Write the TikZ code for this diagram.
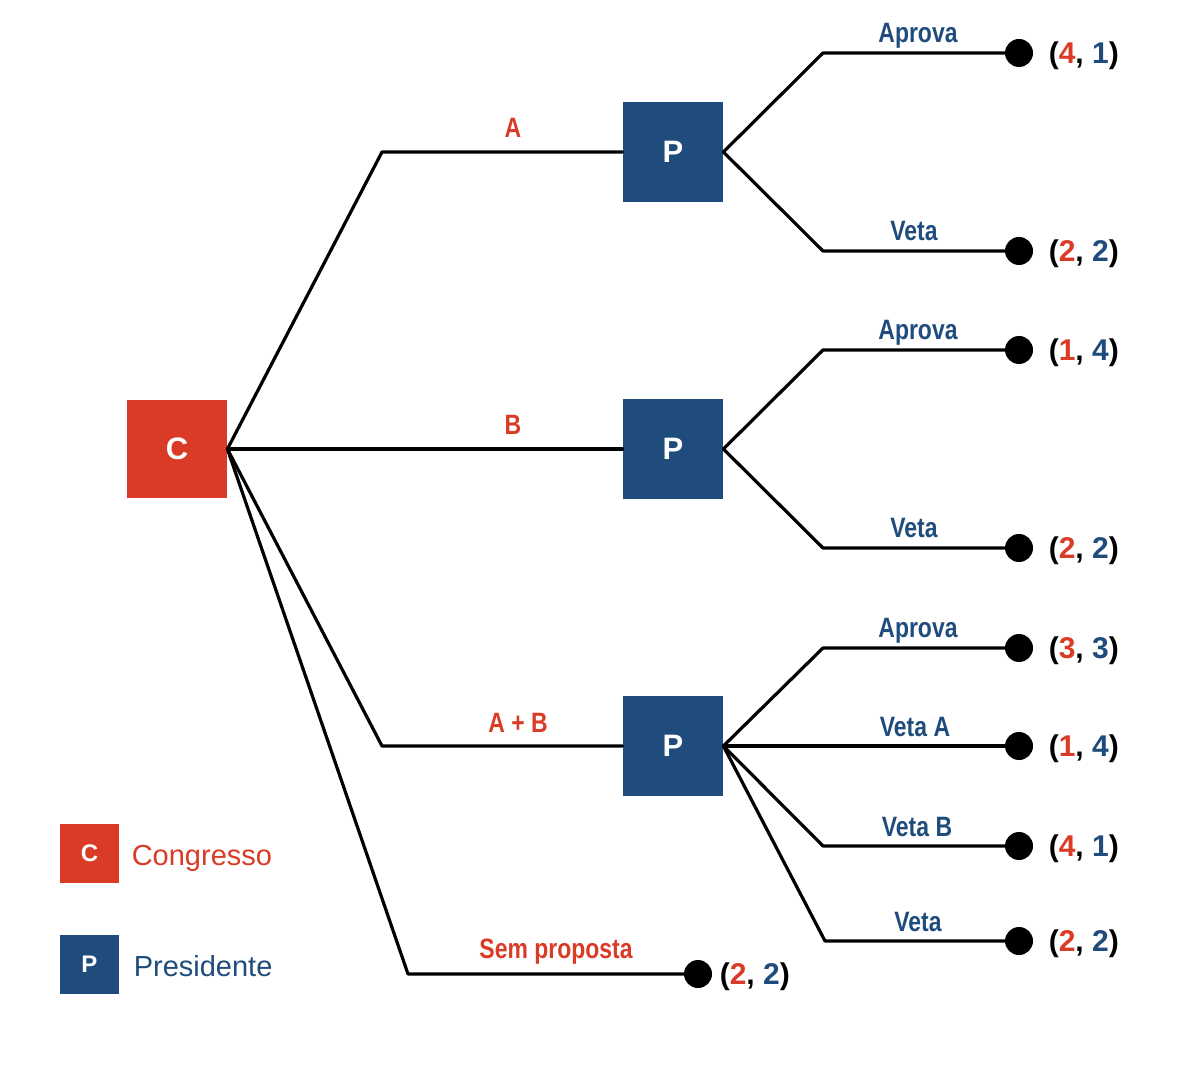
\documentclass[tikz,border=0pt]{standalone}
\usepackage{fontspec}
\setmainfont{Liberation Sans}
\newfontfamily\lblfont{Liberation Sans}[FakeStretch=0.82]
\usepackage{tikz}
\usetikzlibrary{positioning}
\definecolor{congred}{RGB}{218,59,38}
\definecolor{presblue}{RGB}{31,76,124}
\tikzset{
  player/.style={rectangle, minimum size=50pt, inner sep=0pt, text=white,
    font=\bfseries\fontsize{15.5}{15.5}\selectfont},
  leaf/.style={circle, fill=black, minimum size=14pt, inner sep=0pt},
  payoff/.style={anchor=west, inner sep=0pt, yshift=-1.5pt,
    font=\bfseries\fontsize{15}{15}\selectfont},
  movec/.style={anchor=base, inner sep=0pt, text=congred,
    font=\lblfont\bfseries\fontsize{14}{14}\selectfont},
  movep/.style={movec, text=presblue},
  legtext/.style={inner sep=0pt, font=\fontsize{14.5}{14.5}\selectfont},
  branch/.style={line width=1.6pt}
}
\newcommand{\pay}[2]{(\textcolor{congred}{#1}, \textcolor{presblue}{#2})}

\begin{document}
\begin{tikzpicture}[line cap=round,line join=round,x=0.5pt,y=-0.5pt]
\useasboundingbox (0,0) rectangle (1200,1080);
% players
\node[player, fill=congred, minimum height=49pt] (C) at (177,449) {C};
\node[player, fill=presblue] (PA) at (673,152) {P};
\node[player, fill=presblue] (PB) at (673,449) {P};
\node[player, fill=presblue] (PAB) at (673,746) {P};
% moves of C
\coordinate (kA) at (382,152);
\coordinate (kAB) at (382,746);
\coordinate (kS) at (408,974);
\node[leaf] (S) at (698,974) {};
\node[payoff, right=3.5pt of S] (Spay) {\pay{2}{2}};
\draw[branch] (C.east) -- (kA) -- (PA.west);
\draw[branch] (C.east) -- (PB.west);
\draw[branch] (C.east) -- (kAB) -- (PAB.west);
\draw[branch] (C.east) -- (kS) -- (S);
\node[movec] (labA) at (513,138) {A};
\node[movec] (labB) at (513,435) {B};
\node[movec] (labAB) at (518,732) {A + B};
\node[movec] (labS) at (556,958) {Sem proposta};
% moves of P
\foreach \nm/\src/\y/\kx/\lab/\lx/\u/\v in {
  a1/PA/53/823/Aprova/918/4/1,
  a2/PA/251/823/Veta/914/2/2,
  b1/PB/350/823/Aprova/918/1/4,
  b2/PB/548/823/Veta/914/2/2,
  c1/PAB/648/823/Aprova/918/3/3,
  c2/PAB/746/823/Veta A/915/1/4,
  c3/PAB/846/823/Veta B/917/4/1,
  c4/PAB/941/825/Veta/918/2/2}
{
  \coordinate (k\nm) at (\kx,\y);
  \node[leaf] (\nm) at (1019,\y) {};
  \node[payoff, right=7.5pt of \nm] (\nm pay) {\pay{\u}{\v}};
  \node[movep] (\nm lab) at (\lx,\y-10) {\lab};
  \draw[branch] (\src.east) -- (k\nm) -- (\nm);
}
% legend
\node[player, fill=congred, minimum size=29.5pt, font=\bfseries\fontsize{12}{12}\selectfont] (legC) at (89.5,853.5) {C};
\node[legtext, text=congred, right=6pt of legC, yshift=-2.5pt] (legCtxt) {Congresso};
\node[player, fill=presblue, minimum size=29.5pt, font=\bfseries\fontsize{12}{12}\selectfont] (legP) at (89.5,964.5) {P};
\node[legtext, text=presblue, right=7pt of legP, yshift=-1pt] (legPtxt) {Presidente};
\end{tikzpicture}
\end{document}
